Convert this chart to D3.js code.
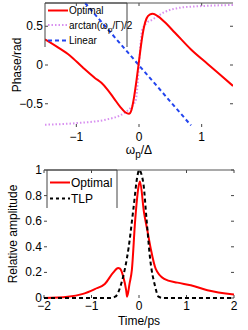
<!DOCTYPE html>
<html>
<head>
<meta charset="utf-8">
<script src="https://cdn.jsdelivr.net/npm/d3@7"></script>
<style>
  body { margin: 0; background: #fff; }
  svg { display: block; font-family: "Liberation Sans", Arial, sans-serif; }
</style>
</head>
<body>
<div id="chart"></div>
<script>
// top panel: phase vs omega_p / Delta
var optX = [-1.5, -1.3, -1.1, -0.9, -0.7, -0.6, -0.5, -0.4, -0.3, -0.22, -0.16, -0.12, -0.08, -0.04, 0, 0.04, 0.08, 0.12, 0.17, 0.22, 0.3, 0.4, 0.57, 0.83, 1.1, 1.3, 1.5];
var optY = [0.33, 0.23, 0.12, -0.03, -0.17, -0.23, -0.32, -0.43, -0.54, -0.61, -0.63, -0.58, -0.42, -0.2, 0.05, 0.3, 0.49, 0.6, 0.65, 0.66, 0.63, 0.56, 0.42, 0.2, 0.01, -0.13, -0.27];
var atanX = [-1.5, -1.0, -0.5, -0.3, -0.2, -0.13, -0.08, -0.05, -0.03, 0, 0.03, 0.05, 0.08, 0.13, 0.2, 0.24, 0.4, 0.66, 1.0, 1.5];
var atanY = [-0.77, -0.75, -0.7, -0.65, -0.6, -0.55, -0.5, -0.45, -0.32, 0, 0.32, 0.45, 0.5, 0.55, 0.58, 0.6, 0.68, 0.74, 0.76, 0.775];
var linX = [-0.86, 0.83];
var linY = [0.8, -0.78];
var phaseXTicks = [-1, 0, 1];
var phaseYTicks = [-0.5, 0, 0.5];

// bottom panel: relative amplitude vs time
var tOptX = [-2, -1.5, -1.2, -0.93, -0.72, -0.54, -0.44, -0.4, -0.33, -0.27, -0.25, -0.2, -0.15, -0.08, -0.01, 0.02, 0.105, 0.18, 0.245, 0.35, 0.53, 0.81, 1.09, 1.44, 2];
var tOptY = [0, 0.01, 0.03, 0.07, 0.11, 0.2, 0.235, 0.23, 0.165, 0.06, 0.01, 0.11, 0.22, 0.61, 0.87, 0.91, 0.67, 0.52, 0.39, 0.23, 0.15, 0.12, 0.1, 0.06, 0.027];
var tlpX = [-2, -0.6, -0.5, -0.36, -0.22, -0.12, -0.03, 0, 0.09, 0.16, 0.23, 0.34, 0.41, 0.5, 2];
var tlpY = [0, 0, 0.01, 0.13, 0.39, 0.69, 0.96, 1.0, 0.9, 0.61, 0.32, 0.09, 0.01, 0, 0];
var timeXTicks = [-2, -1, 0, 1, 2];
var ampYTicks = [0, 0.2, 0.4, 0.6, 0.8, 1];

var svg = d3.select("#chart").append("svg")
  .attr("width", 248)
  .attr("height", 330);

function zip(xs, ys) {
  return xs.map(function(x, i) { return [x, ys[i]]; });
}

function fmt(v) {
  return v < 0 ? "\u2212" + Math.abs(v) : String(v);
}

function panel(o) {
  var x = d3.scaleLinear().domain(o.xd).range([o.left, o.right]);
  var y = d3.scaleLinear().domain(o.yd).range([o.bottom, o.top]);
  var g = svg.append("g");
  var clipId = "clip" + o.top;
  svg.append("clipPath").attr("id", clipId).append("rect")
    .attr("x", o.left).attr("y", o.top - 1)
    .attr("width", o.right - o.left).attr("height", o.bottom - o.top + 2);

  // inner ticks
  var tk = 3;
  o.xt.forEach(function(v) {
    g.append("line").attr("x1", x(v)).attr("x2", x(v)).attr("y1", o.bottom).attr("y2", o.bottom - tk).attr("stroke", "#444");
    g.append("line").attr("x1", x(v)).attr("x2", x(v)).attr("y1", o.top).attr("y2", o.top + tk).attr("stroke", "#444");
    g.append("text").attr("x", x(v)).attr("y", o.bottom + o.xlab)
      .attr("text-anchor", "middle").attr("font-size", 12)
      .text(fmt(v));
  });
  o.yt.forEach(function(v) {
    g.append("line").attr("x1", o.left).attr("x2", o.left + tk).attr("y1", y(v)).attr("y2", y(v)).attr("stroke", "#444");
    g.append("line").attr("x1", o.right).attr("x2", o.right - tk).attr("y1", y(v)).attr("y2", y(v)).attr("stroke", "#444");
    g.append("text").attr("x", o.left - 2).attr("y", y(v) + 4)
      .attr("text-anchor", "end").attr("font-size", 12)
      .text(fmt(v));
  });
  g.append("line").attr("x1", o.left).attr("x2", o.right).attr("y1", o.top).attr("y2", o.top)
    .attr("stroke", "#555").attr("stroke-width", 1.2);

  var smooth = d3.line().x(function(d) { return x(d[0]); }).y(function(d) { return y(d[1]); })
    .curve(d3.curveMonotoneX);
  var straight = d3.line().x(function(d) { return x(d[0]); }).y(function(d) { return y(d[1]); });
  var plot = g.append("g").attr("clip-path", "url(#" + clipId + ")");
  o.series.forEach(function(s) {
    plot.append("path").attr("d", (s.straight ? straight : smooth)(zip(s.xs, s.ys)))
      .attr("fill", "none").attr("stroke", s.color).attr("stroke-width", 2)
      .attr("stroke-dasharray", s.dash || null);
  });
  return { g: g, x: x, y: y };
}

panel({
  left: 45, right: 233, top: 3, bottom: 127, xlab: 14,
  xd: [-1.5, 1.5], yd: [-0.8, 0.8], xt: phaseXTicks, yt: phaseYTicks,
  series: [
    { xs: atanX, ys: atanY, color: "#d890f0", dash: "1.5,2" },
    { xs: linX, ys: linY, color: "#2244ee", dash: "4,3", straight: true },
    { xs: optX, ys: optY, color: "#ff0000" }
  ]
});

panel({
  left: 44, right: 234, top: 170, bottom: 298, xlab: 12,
  xd: [-2, 2], yd: [0, 1], xt: timeXTicks, yt: ampYTicks,
  series: [
    { xs: tOptX, ys: tOptY, color: "#ff0000" },
    { xs: tlpX, ys: tlpY, color: "#000", dash: "4,3" }
  ]
});

// axis labels
var xl1 = svg.append("text").attr("x", 139).attr("y", 154).attr("text-anchor", "middle").attr("font-size", 12);
xl1.append("tspan").text("\u03c9");
xl1.append("tspan").attr("dy", 4).attr("font-size", 10).text("p");
xl1.append("tspan").attr("dy", -4).text("/\u0394");

svg.append("text").attr("transform", "translate(21,65) rotate(-90)")
  .attr("text-anchor", "middle").attr("font-size", 12).text("Phase/rad");

svg.append("text").attr("x", 139).attr("y", 325).attr("text-anchor", "middle").attr("font-size", 12).text("Time/ps");
svg.append("text").attr("transform", "translate(17,234) rotate(-90)")
  .attr("text-anchor", "middle").attr("font-size", 12).text("Relative amplitude");

// legends
function legend(box, items, fs) {
  svg.append("path")
    .attr("d", "M" + box[0] + "," + box[3] + "V" + box[1] + "H" + box[2] + "V" + box[3])
    .attr("fill", "none").attr("stroke", "#444").attr("stroke-width", 1);
  items.forEach(function(it) {
    svg.append("line").attr("x1", box[0] + 3).attr("x2", box[0] + 23)
      .attr("y1", it.y).attr("y2", it.y)
      .attr("stroke", it.color).attr("stroke-width", 2).attr("stroke-dasharray", it.dash || null);
    var t = svg.append("text").attr("x", box[0] + 24).attr("y", it.y + fs * 0.36).attr("font-size", fs);
    it.parts.forEach(function(p) {
      t.append("tspan").attr("dy", p[1]).attr("font-size", p[2] || fs).text(p[0]);
    });
  });
}

legend([45, 3, 127, 47], [
  { y: 10.5, color: "#ff0000", parts: [["Optimal", 0]] },
  { y: 25, color: "#d890f0", dash: "1.5,2", parts: [["arctan(\u03c9", 0], ["p", 3, 8], ["/\u0393)/2", -3]] },
  { y: 40.5, color: "#2244ee", dash: "4,3", parts: [["Linear", 0]] }
], 10);

legend([47, 170, 117, 208], [
  { y: 182.5, color: "#ff0000", parts: [["Optimal", 0]] },
  { y: 198.5, color: "#000", dash: "3,3", parts: [["TLP", 0]] }
], 12);
</script>
</body>
</html>
